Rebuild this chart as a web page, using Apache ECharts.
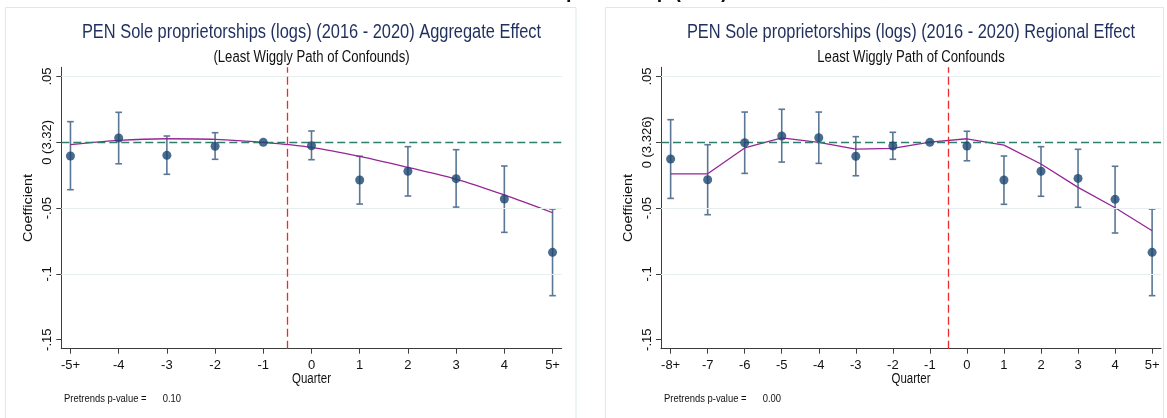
<!DOCTYPE html>
<html><head><meta charset="utf-8">
<script src="https://cdn.jsdelivr.net/npm/echarts@6/dist/echarts.min.js"></script>
<style>html,body{margin:0;padding:0;background:#fff}#c{width:1167px;height:418px}</style>
</head><body><div id="c"></div>
<script>
// ---------- data ----------
const aggQuarters = [-5, -4, -3, -2, -1, 0, 1, 2, 3, 4, 5];
const aggCoef = [-0.0104, 0.0033, -0.0099, -0.0030, 0.0000, -0.0026, -0.0286, -0.0220, -0.0276, -0.0431, -0.0836];
const aggLow  = [-0.0360, -0.0163, -0.0243, -0.0129, null, -0.0132, -0.0469, -0.0408, -0.0492, -0.0684, -0.1165];
const aggHigh = [0.0157, 0.0228, 0.0048, 0.0073, null, 0.0086, -0.0106, -0.0033, -0.0056, -0.0180, -0.0507];
const aggPath = [-0.0018, 0.0015, 0.0027, 0.0023, 0.0000, -0.0038, -0.0106, -0.0190, -0.0279, -0.0400, -0.0535];

const regQuarters = [-8, -7, -6, -5, -4, -3, -2, -1, 0, 1, 2, 3, 4, 5];
const regCoef = [-0.0127, -0.0284, -0.0003, 0.0048, 0.0035, -0.0106, -0.0028, 0.0000, -0.0028, -0.0286, -0.0220, -0.0274, -0.0433, -0.0836];
const regLow  = [-0.0426, -0.0550, -0.0236, -0.0150, -0.0160, -0.0254, -0.0129, null, -0.0140, -0.0471, -0.0410, -0.0494, -0.0689, -0.1165];
const regHigh = [0.0172, -0.0018, 0.0230, 0.0251, 0.0230, 0.0043, 0.0076, null, 0.0084, -0.0104, -0.0033, -0.0053, -0.0182, -0.0507];
const regPath = [-0.0239, -0.0239, -0.0043, 0.0033, 0.0000, -0.0051, -0.0046, 0.0002, 0.0027, -0.0021, -0.0165, -0.0342, -0.0497, -0.0672];

const yTickValues = [-0.15, -0.1, -0.05, 0, 0.05];
const yTickLabelsAgg = ['-.15', '-.1', '-.05', '0 (3.32)', '.05'];
const yTickLabelsReg = ['-.15', '-.1', '-.05', '0 (3.326)', '.05'];
const gridLineValues = [0.05, -0.05, -0.1];

const titleAgg = 'PEN Sole proprietorships (logs) (2016 - 2020) Aggregate Effect';
const subtitleAgg = '(Least Wiggly Path of Confounds)';
const titleReg = 'PEN Sole proprietorships (logs) (2016 - 2020) Regional Effect';
const subtitleReg = 'Least Wiggly Path of Confounds';
const pvalAgg = '0.10';
const pvalReg = '0.00';
const topHeading = 'Sole Proprietorship (PEN)';

// ---------- style ----------
function hasFont(name) {
  const c = document.createElement('canvas').getContext('2d');
  const s = 'abcdefghijklmnopWWW0123';
  c.font = '40px monospace'; const w0 = c.measureText(s).width;
  c.font = "40px '" + name + "', monospace"; const w1 = c.measureText(s).width;
  return w0 !== w1;
}
const NARROW = hasFont('Liberation Sans Narrow');
const FF = NARROW ? "'Liberation Sans Narrow', sans-serif" : "'Liberation Sans', Arial, sans-serif";
const SX = NARROW ? 1 : 0.82;
const AXIS_FS = NARROW ? 14 : 13;
const C_POINT = '#1b4670', C_CI = '#5a7795', C_PATH = '#962596', C_ZERO = '#2f7d6b', C_RED = '#ee2a2a';
const C_GRID = '#e6eef0', C_AXIS = '#3c3c3c', C_BORDER = '#dde8ec', C_TEXT = '#111';

const Y_MIN = -0.1568, Y_MAX = 0.057;
const grids = [
  { left: 61.3, top: 67.3, width: 500.4, height: 281.4 },
  { left: 661, top: 67.3, width: 500, height: 281.4 }
];

function xAxisFor(gi, q, min, max) {
  return {
    gridIndex: gi, type: 'value', min: min, max: max,
    axisLine: { show: true, onZero: false, lineStyle: { color: C_AXIS, width: 1 } },
    axisTick: { show: true, customValues: q, length: 5, lineStyle: { color: C_AXIS } },
    axisLabel: {
      customValues: q, margin: 10, color: C_TEXT, fontFamily: FF, fontSize: AXIS_FS,
      formatter: v => (v === q[0] || v === q[q.length - 1]) ? v + '+' : String(v)
    },
    splitLine: { show: false }
  };
}
function yAxisFor(gi, labels) {
  return {
    gridIndex: gi, type: 'value', min: Y_MIN, max: Y_MAX,
    axisLine: { show: true, onZero: false, lineStyle: { color: C_AXIS, width: 1 } },
    axisTick: { show: true, customValues: yTickValues, length: 5, lineStyle: { color: C_AXIS } },
    axisLabel: {
      customValues: yTickValues, rotate: 90, margin: 7, color: C_TEXT, fontFamily: FF, fontSize: AXIS_FS,
      formatter: v => { const i = yTickValues.findIndex(t => Math.abs(t - v) < 1e-9); return i >= 0 ? labels[i] : ''; }
    },
    splitLine: { show: false }
  };
}

function refSeries(gi) {
  const data = gridLineValues.map(v => ({ yAxis: v, lineStyle: { color: C_GRID, width: 1, type: 'solid' } }));
  data.push({ yAxis: 0, lineStyle: { color: C_ZERO, width: 1.3, type: [8, 4] } });
  data.push({ xAxis: -0.5, lineStyle: { color: C_RED, width: 1.3, type: [8, 4] } });
  return {
    type: 'line', xAxisIndex: gi, yAxisIndex: gi, data: [], silent: true, z: 1,
    markLine: { silent: true, symbol: ['none', 'none'], label: { show: false }, animation: false, data: data }
  };
}
function ciSeries(gi, q, lo, hi) {
  const data = [];
  q.forEach((x, i) => { if (lo[i] !== null && hi[i] !== null) data.push([x, lo[i], hi[i]]); });
  return {
    type: 'custom', xAxisIndex: gi, yAxisIndex: gi, z: 3, silent: true,
    data: data,
    renderItem: (params, api) => {
      const x = api.value(0);
      const a = api.coord([x, api.value(2)]);
      const b = api.coord([x, api.value(1)]);
      const w = 3.3;
      const st = { stroke: C_CI, lineWidth: 1.6 };
      return { type: 'group', children: [
        { type: 'line', shape: { x1: a[0], y1: a[1], x2: b[0], y2: b[1] }, style: st },
        { type: 'line', shape: { x1: a[0] - w, y1: a[1], x2: a[0] + w, y2: a[1] }, style: st },
        { type: 'line', shape: { x1: b[0] - w, y1: b[1], x2: b[0] + w, y2: b[1] }, style: st }
      ] };
    }
  };
}
function pathSeries(gi, q, p, smooth) {
  return {
    type: 'line', xAxisIndex: gi, yAxisIndex: gi, z: 4, silent: true, smooth: smooth,
    showSymbol: false, symbol: 'none', lineStyle: { color: C_PATH, width: 1.3 },
    data: q.map((x, i) => [x, p[i]])
  };
}
function pointSeries(gi, q, c) {
  return {
    type: 'scatter', xAxisIndex: gi, yAxisIndex: gi, z: 5, silent: true,
    symbol: 'circle', symbolSize: 9, itemStyle: { color: C_POINT },
    data: q.map((x, i) => [x, c[i]])
  };
}

function txt(text, x, y, size, opts) {
  opts = opts || {};
  return {
    type: 'text', x: x, y: y, rotation: opts.rotation || 0, scaleX: opts.rotation ? 1 : SX, scaleY: opts.rotation ? SX : 1,
    silent: true, z: 10,
    style: {
      text: text, x: 0, y: 0, fill: opts.color || C_TEXT,
      font: (opts.bold ? 'bold ' : '') + size + 'px ' + FF,
      align: opts.align || 'center', verticalAlign: 'middle',
      textAlign: opts.align || 'center', textVerticalAlign: 'middle'
    }
  };
}

const graphics = [
  { type: 'rect', silent: true, z: 0, shape: { x: 5.5, y: 7.5, width: 570.5, height: 420 }, style: { fill: 'none', stroke: C_BORDER, lineWidth: 1 } },
  { type: 'rect', silent: true, z: 0, shape: { x: 605.5, y: 7.5, width: 558, height: 420 }, style: { fill: 'none', stroke: C_BORDER, lineWidth: 1 } },
  txt(topHeading, 607, -10, 24, { bold: true, color: '#111' }),
  txt(titleAgg, 311.5, 32, 20, { color: '#1f2f5e' }),
  txt(subtitleAgg, 311.5, 58, 16),
  txt(titleReg, 911, 32, 20, { color: '#1f2f5e' }),
  txt(subtitleReg, 911, 58, 16),
  txt('Coefficient', 29, 208, 14.5, { rotation: Math.PI / 2 }),
  txt('Coefficient', 629, 208, 14.5, { rotation: Math.PI / 2 }),
  txt('Quarter', 311.5, 379, 14),
  txt('Quarter', 911, 379, 14),
  txt('Pretrends p-value =', 64, 398.6, 11.5, { align: 'left' }),
  txt(pvalAgg, 162.7, 398.6, 11.5, { align: 'left' }),
  txt('Pretrends p-value =', 664, 398.6, 11.5, { align: 'left' }),
  txt(pvalReg, 762.7, 398.6, 11.5, { align: 'left' })
];

const chart = echarts.init(document.getElementById('c'), null, { renderer: 'canvas' });
chart.setOption({
  animation: false,
  backgroundColor: '#ffffff',
  grid: grids,
  xAxis: [xAxisFor(0, aggQuarters, -5.19, 5.19), xAxisFor(1, regQuarters, -8.26, 5.24)],
  yAxis: [yAxisFor(0, yTickLabelsAgg), yAxisFor(1, yTickLabelsReg)],
  graphic: { elements: graphics },
  series: [
    refSeries(0), ciSeries(0, aggQuarters, aggLow, aggHigh), pathSeries(0, aggQuarters, aggPath, 0.3), pointSeries(0, aggQuarters, aggCoef),
    refSeries(1), ciSeries(1, regQuarters, regLow, regHigh), pathSeries(1, regQuarters, regPath, false), pointSeries(1, regQuarters, regCoef)
  ]
});
</script>
</body></html>
